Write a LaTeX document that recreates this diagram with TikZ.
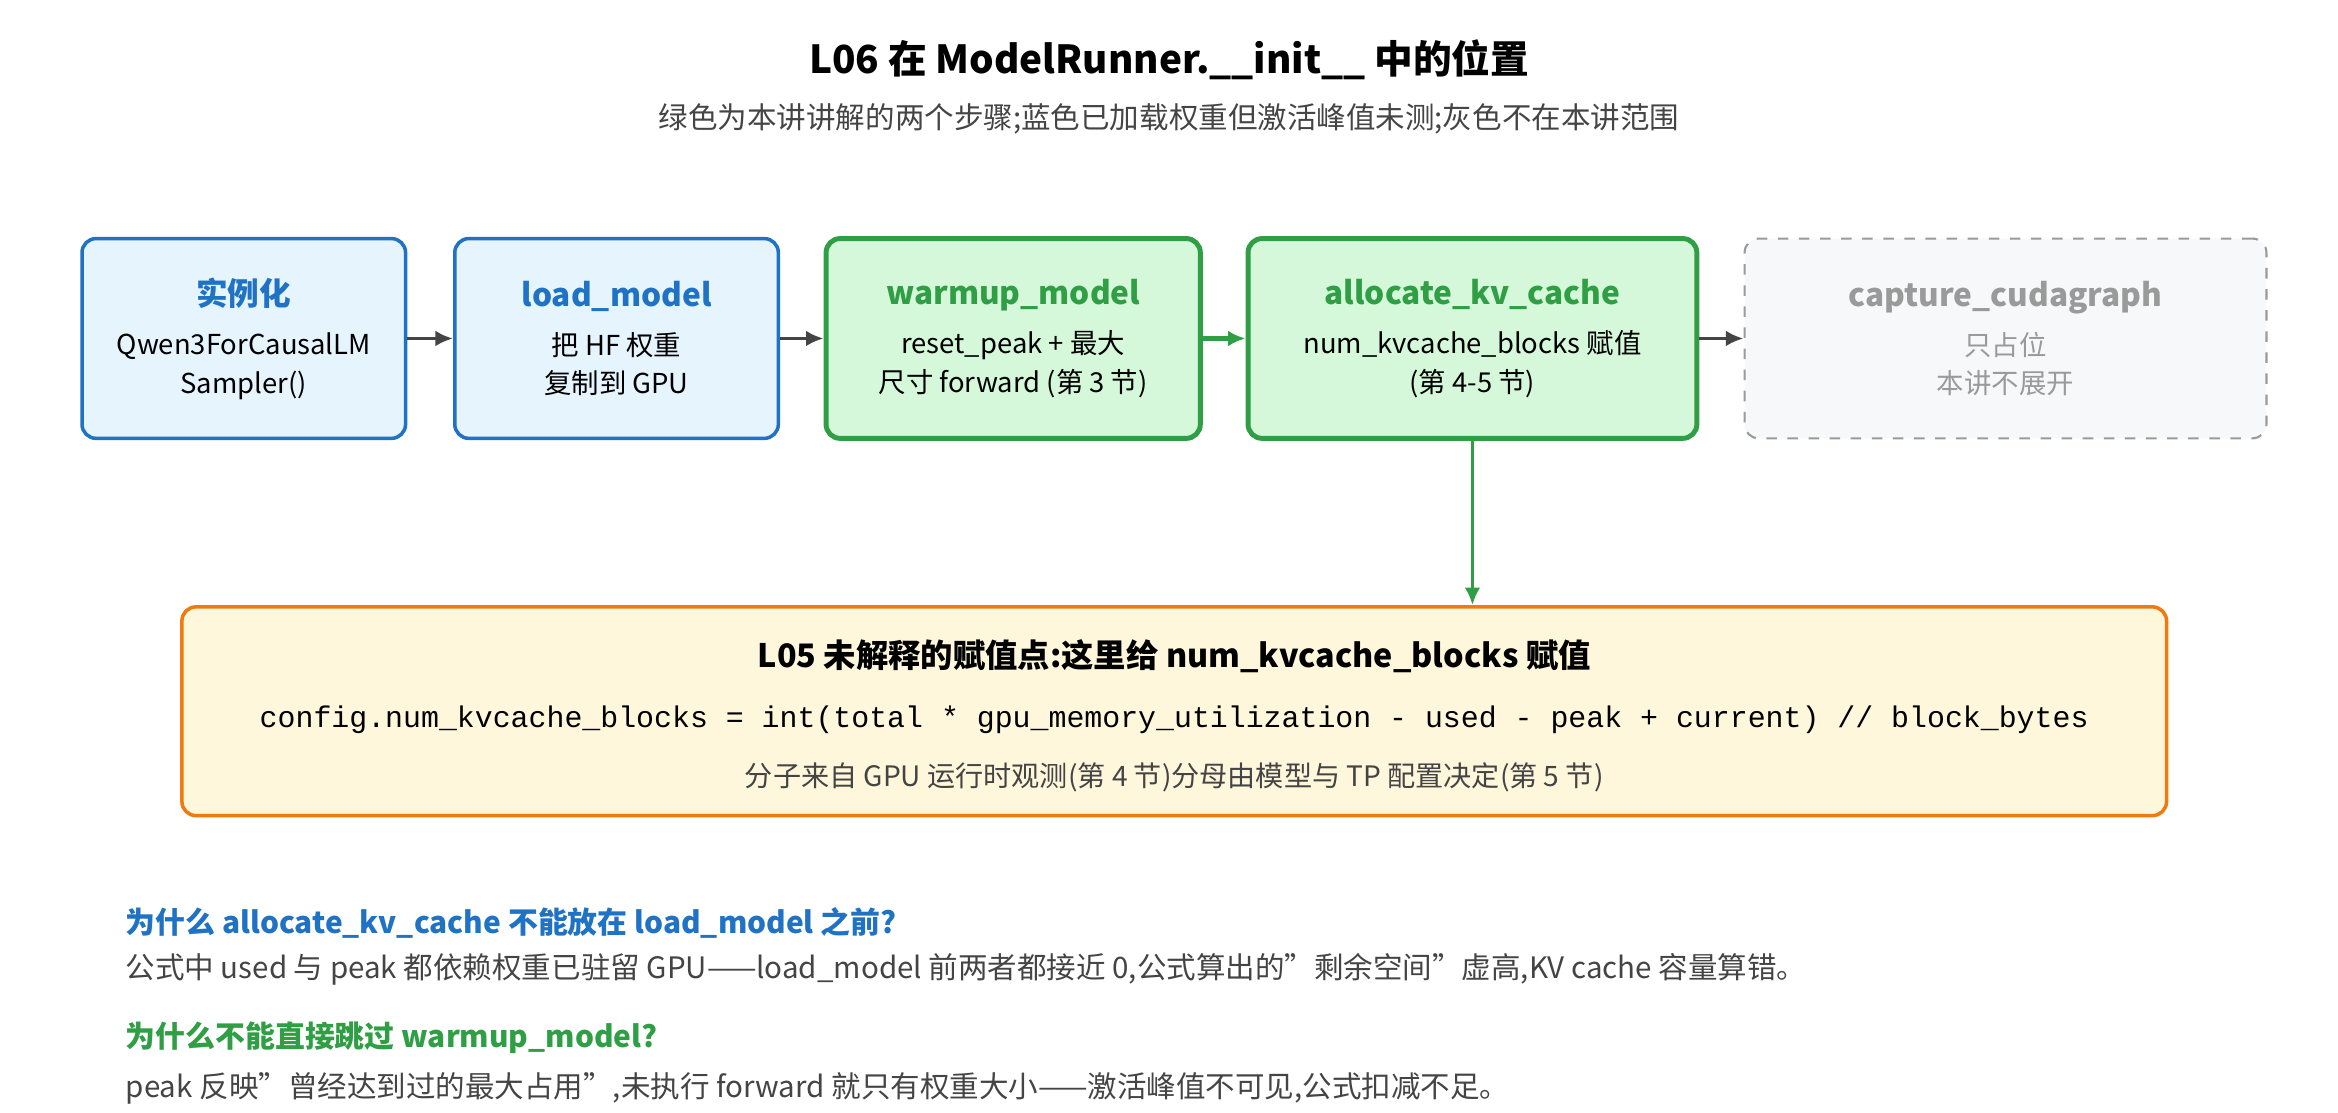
\documentclass[tikz,border=0pt]{standalone}
\usepackage{fontspec}
\setmainfont{Noto Sans CJK SC}
\setmonofont{Liberation Mono}
\usetikzlibrary{positioning, arrows.meta}
\definecolor{myblue}{HTML}{1F72C4}
\definecolor{mybluefill}{HTML}{E6F4FD}
\definecolor{mygreen}{HTML}{2F9E44}
\definecolor{mygreenfill}{HTML}{D4F8D9}
\definecolor{mygray}{HTML}{9A9A9A}
\definecolor{mygrayfill}{HTML}{F7F8F9}
\definecolor{myorange}{HTML}{EE7A10}
\definecolor{myorangefill}{HTML}{FFF7DC}
\definecolor{mytext}{HTML}{444444}
\newcommand{\BoxTitle}[2]{{\fontsize{9pt}{11pt}\selectfont\bfseries\color{#1}#2}\\[3pt]}
\newcommand{\Qt}{\symbol{34}}

\begin{document}
\begin{tikzpicture}[x=0.01491cm, y=-0.01491cm,
  stagebox/.style={draw, rounded corners=4pt, align=center, inner sep=0pt,
    minimum height=134*0.01491cm, font=\fontsize{7.8pt}{11pt}\selectfont},
  bluestep/.style={stagebox, myblue, line width=1pt, fill=mybluefill, text=black},
  greenstep/.style={stagebox, mygreen, line width=1.4pt, fill=mygreenfill, text=black},
  graystep/.style={stagebox, mygray, dashed, line width=0.6pt, fill=mygrayfill, text=mygray},
  flow/.style={-{Latex[length=5pt,width=4.5pt]}, line width=1pt, draw=mytext}]
  \useasboundingbox (0,0) rectangle (1568,746);
  % heading
  \node[font=\fontsize{11pt}{13pt}\selectfont\bfseries] (title) at (784,40) {L06 在 ModelRunner.\_\_init\_\_ 中的位置};
  \node[font=\fontsize{8.4pt}{10pt}\selectfont, text=mytext] (sub) at (784,80) {绿色为本讲讲解的两个步骤;蓝色已加载权重但激活峰值未测;灰色不在本讲范围};
  % steps
  \node[bluestep, minimum width=217*0.01491cm]  (S0) at (163.5,227) {\BoxTitle{myblue}{实例化}Qwen3ForCausalLM\\Sampler()};
  \node[bluestep, minimum width=217*0.01491cm]  (S1) at (413.5,227) {\BoxTitle{myblue}{load\_model}把 HF 权重\\复制到 GPU};
  \node[greenstep, minimum width=251*0.01491cm] (S2) at (679.5,227) {\BoxTitle{mygreen}{warmup\_model}reset\_peak + 最大\\尺寸 forward (第 3 节)};
  \node[greenstep, minimum width=301*0.01491cm] (S3) at (987.5,227) {\BoxTitle{mygreen}{allocate\_kv\_cache}num\_kvcache\_blocks 赋值\\(第 4-5 节)};
  \node[graystep, minimum width=350*0.01491cm]  (S4) at (1345,227) {\BoxTitle{mygray}{capture\_cudagraph}只占位\\本讲不展开};
  \draw[flow] (S0) -- (S1);
  \draw[flow] (S1) -- (S2);
  \draw[flow, draw=mygreen, line width=1.4pt] (S2) -- (S3);
  \draw[flow] (S3) -- (S4);
  % formula box
  \node[draw=myorange, fill=myorangefill, line width=1pt, rounded corners=4pt,
    minimum width=1331*0.01491cm, minimum height=140*0.01491cm] (F) at (787.5,477) {};
  \node[font=\fontsize{9.2pt}{11pt}\selectfont\bfseries] (Fhead) at (787.5,440) {L05 未解释的赋值点:这里给 num\_kvcache\_blocks 赋值};
  \node[font=\fontsize{8.5pt}{11pt}\selectfont\ttfamily] (Fcode) at (787.5,483) {config.num\_kvcache\_blocks = int(total * gpu\_memory\_utilization - used - peak + current) // block\_bytes};
  \node[font=\fontsize{8pt}{10pt}\selectfont, text=mytext] (Fnote) at (787.5,521) {分子来自 GPU 运行时观测(第 4 节)分母由模型与 TP 配置决定(第 5 节)};
  \draw[flow, draw=mygreen] (S3.south) -- (S3.south |- F.north);
  % notes
  \node[anchor=west, font=\fontsize{8.5pt}{10pt}\selectfont\bfseries, text=myblue] (Q1) at (76,619) {为什么 allocate\_kv\_cache 不能放在 load\_model 之前?};
  \node[anchor=west, font=\fontsize{8.4pt}{10pt}\selectfont, text=mytext] (A1) at (76,650) {公式中 used 与 peak 都依赖权重已驻留 GPU——load\_model 前两者都接近 0,公式算出的\Qt 剩余空间\Qt 虚高,KV cache 容量算错。};
  \node[anchor=west, font=\fontsize{8.5pt}{10pt}\selectfont\bfseries, text=mygreen] (Q2) at (76,696) {为什么不能直接跳过 warmup\_model?};
  \node[anchor=west, font=\fontsize{8.4pt}{10pt}\selectfont, text=mytext] (A2) at (76,730) {peak 反映\Qt 曾经达到过的最大占用\Qt,未执行 forward 就只有权重大小——激活峰值不可见,公式扣减不足。};
\end{tikzpicture}
\end{document}
